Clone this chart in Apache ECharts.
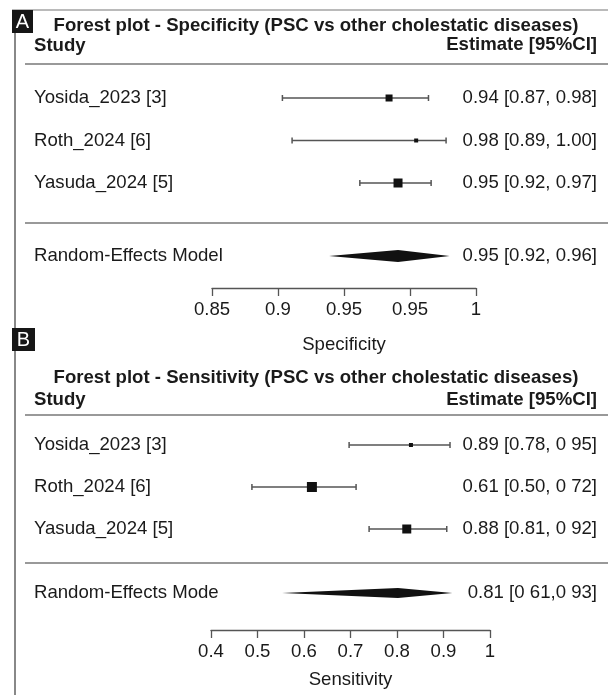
<!DOCTYPE html>
<html>
<head>
<meta charset="utf-8">
<script src="https://cdn.jsdelivr.net/npm/echarts@6/dist/echarts.min.js"></script>
<style>
  html, body { margin: 0; padding: 0; background: #fff; }
  #chart { width: 608px; height: 695px; }
</style>
</head>
<body>
<div id="chart"></div>
<script>
// ---------------- DATA ----------------
const studies = ['Yosida_2023 [3]', 'Roth_2024 [6]', 'Yasuda_2024 [5]'];

// Panel A – Specificity
const specEst = [0.9506, 0.966, 0.9557];
const specLo = [0.890, 0.8955, 0.934];
const specHi = [0.973, 0.983, 0.9745];
const specLabels = ['0.94 [0.87, 0.98]', '0.98 [0.89, 1.00]', '0.95 [0.92, 0.97]'];
const specPooledName = 'Random-Effects Model';
const specPooled = [0.9557, 0.9165, 0.985]; // estimate, lower, upper
const specPooledLabel = '0.95 [0.92, 0.96]';
const specTickValues = [0.85, 0.8875, 0.925, 0.9625, 1];
const specTickLabels = ['0.85', '0.9', '0.95', '0.95', '1'];

// Panel B – Sensitivity
const sensEst = [0.830, 0.617, 0.821];
const sensLo = [0.697, 0.488, 0.740];
const sensHi = [0.914, 0.712, 0.907];
const sensLabels = ['0.89 [0.78, 0 95]', '0.61 [0.50, 0 72]', '0.88 [0.81, 0 92]'];
const sensPooledName = 'Random-Effects Mode';
const sensPooled = [0.802, 0.553, 0.919];
const sensPooledLabel = '0.81 [0 61,0 93]';
const sensTickValues = [0.4, 0.5, 0.6, 0.7, 0.8, 0.9, 1];
const sensTickLabels = ['0.4', '0.5', '0.6', '0.7', '0.8', '0.9', '1'];

// ---------------- STYLE ----------------
const FONT = "'Liberation Sans', Arial, Helvetica, sans-serif";
const FS = 18.6;
const TXT = '#1a1a1a';
const specMarkerPx = [7, 4, 9];
const sensMarkerPx = [4, 10, 9];

const chart = echarts.init(document.getElementById('chart'), null, { renderer: 'canvas' });

function studyItem(params, api, sizes) {
  const yi = api.value(0);
  const c = api.coord([api.value(1), yi]);
  const l = api.coord([api.value(2), yi]);
  const h = api.coord([api.value(3), yi]);
  const s = sizes[params.dataIndex];
  const ls = { stroke: '#555', lineWidth: 1.5 };
  return {
    type: 'group',
    children: [
      { type: 'line', shape: { x1: l[0], y1: l[1], x2: h[0], y2: h[1] }, style: ls },
      { type: 'line', shape: { x1: l[0], y1: l[1] - 3, x2: l[0], y2: l[1] + 3 }, style: ls },
      { type: 'line', shape: { x1: h[0], y1: h[1] - 3, x2: h[0], y2: h[1] + 3 }, style: ls },
      { type: 'rect', shape: { x: c[0] - s / 2, y: c[1] - s / 2, width: s, height: s }, style: { fill: '#111' } }
    ]
  };
}
function diamondItem(params, api, half) {
  const yi = api.value(0);
  const c = api.coord([api.value(1), yi]);
  const l = api.coord([api.value(2), yi]);
  const h = api.coord([api.value(3), yi]);
  return {
    type: 'polygon',
    shape: { points: [[l[0], l[1]], [c[0], c[1] - half], [h[0], h[1]], [c[0], c[1] + half]] },
    style: { fill: '#111' }
  };
}

function catAxis(gridIndex, data, side, margin) {
  return {
    type: 'category', gridIndex, data, inverse: true, position: side,
    axisLine: { show: false }, axisTick: { show: false }, splitLine: { show: false },
    axisLabel: {
      margin, align: side === 'left' ? 'left' : 'right',
      fontFamily: FONT, fontSize: FS, color: TXT
    }
  };
}

const grids = [
  { left: 212, right: 132, top: 76.75, height: 127.5 },  // A studies
  { left: 212, right: 132, top: 224, height: 64 },       // A pooled + axis
  { left: 211, right: 118, top: 424, height: 126 },      // B studies
  { left: 211, right: 118, top: 556, height: 74 }        // B pooled + axis
];

const axisStyle = { lineStyle: { color: '#555', width: 1.3 } };

const xAxes = [
  { type: 'value', gridIndex: 0, min: 0.85, max: 1, show: false },
  {
    type: 'value', gridIndex: 1, min: 0.85, max: 1,
    name: 'Specificity', nameLocation: 'middle', nameGap: 47,
    nameTextStyle: { fontFamily: FONT, fontSize: FS, color: TXT },
    axisLine: { show: true, ...axisStyle },
    axisTick: { show: true, length: 8, customValues: specTickValues, ...axisStyle },
    splitLine: { show: false },
    axisLabel: {
      customValues: specTickValues, margin: 12, fontFamily: FONT, fontSize: FS, color: TXT,
      formatter: (v) => {
        const i = specTickValues.findIndex(t => Math.abs(t - v) < 1e-6);
        return i >= 0 ? specTickLabels[i] : '';
      }
    }
  },
  { type: 'value', gridIndex: 2, min: 0.4, max: 1, show: false },
  {
    type: 'value', gridIndex: 3, min: 0.4, max: 1,
    name: 'Sensitivity', nameLocation: 'middle', nameGap: 40,
    nameTextStyle: { fontFamily: FONT, fontSize: FS, color: TXT },
    axisLine: { show: true, ...axisStyle },
    axisTick: { show: true, length: 8, customValues: sensTickValues, ...axisStyle },
    splitLine: { show: false },
    axisLabel: {
      customValues: sensTickValues, margin: 12, fontFamily: FONT, fontSize: FS, color: TXT,
      formatter: (v) => {
        const i = sensTickValues.findIndex(t => Math.abs(t - v) < 1e-6);
        return i >= 0 ? sensTickLabels[i] : '';
      }
    }
  }
];

const yAxes = [
  catAxis(0, studies, 'left', 178),
  catAxis(0, specLabels, 'right', 121),
  catAxis(1, [specPooledName], 'left', 178),
  catAxis(1, [specPooledLabel], 'right', 121),
  catAxis(2, studies, 'left', 177),
  catAxis(2, sensLabels, 'right', 107),
  catAxis(3, [sensPooledName], 'left', 177),
  catAxis(3, [sensPooledLabel], 'right', 107)
];

const specRows = studies.map((s, i) => [i, specEst[i], specLo[i], specHi[i]]);
const sensRows = studies.map((s, i) => [i, sensEst[i], sensLo[i], sensHi[i]]);

const series = [
  {
    type: 'custom', xAxisIndex: 0, yAxisIndex: 0, data: specRows,
    encode: { x: [1, 2, 3], y: 0 },
    renderItem: (p, a) => studyItem(p, a, specMarkerPx)
  },
  {
    type: 'custom', xAxisIndex: 1, yAxisIndex: 2, data: [[0, ...specPooled]],
    encode: { x: [1, 2, 3], y: 0 },
    renderItem: (p, a) => diamondItem(p, a, 6)
  },
  {
    type: 'custom', xAxisIndex: 2, yAxisIndex: 4, data: sensRows,
    encode: { x: [1, 2, 3], y: 0 },
    renderItem: (p, a) => studyItem(p, a, sensMarkerPx)
  },
  {
    type: 'custom', xAxisIndex: 3, yAxisIndex: 6, data: [[0, ...sensPooled]],
    encode: { x: [1, 2, 3], y: 0 },
    renderItem: (p, a) => diamondItem(p, a, 5)
  }
];

function hline(y, x1, x2, color, w) {
  return { type: 'line', silent: true, shape: { x1, y1: y, x2, y2: y }, style: { stroke: color, lineWidth: w } };
}
function txt(x, y, text, opts) {
  return {
    type: 'text', silent: true, x, y,
    style: Object.assign({ text, fill: TXT, font: `${FS}px ${FONT}`, align: 'left', verticalAlign: 'middle' }, opts || {})
  };
}
function panelBox(x, y, w, h, letter) {
  return [
    { type: 'rect', silent: true, shape: { x, y, width: w, height: h }, style: { fill: '#161616' }, z: 10 },
    Object.assign(txt(x + w / 2, y + h / 2 + 1, letter, { fill: '#fff', align: 'center', font: `20px ${FONT}` }), { z: 11 })
  ];
}

const graphic = [
  // frame lines
  hline(10, 12, 608, '#777', 1.2),
  { type: 'line', silent: true, shape: { x1: 15, y1: 33, x2: 15, y2: 695 }, style: { stroke: '#888', lineWidth: 2 } },
  ...panelBox(12, 10, 21, 23, 'A'),
  ...panelBox(12, 328, 23, 23, 'B'),
  // Panel A header
  txt(316, 26, 'Forest plot - Specificity (PSC vs other cholestatic diseases)', { align: 'center', font: `bold ${FS}px ${FONT}` }),
  txt(34, 46, 'Study', { font: `bold ${FS}px ${FONT}` }),
  txt(597, 45, 'Estimate [95%CI]', { align: 'right', font: `bold ${FS}px ${FONT}` }),
  hline(64, 25, 608, '#999', 2),
  hline(223, 25, 608, '#999', 2),
  // Panel B header
  txt(316, 378, 'Forest plot - Sensitivity (PSC vs other cholestatic diseases)', { align: 'center', font: `bold ${FS}px ${FONT}` }),
  txt(34, 400, 'Study', { font: `bold ${FS}px ${FONT}` }),
  txt(597, 400, 'Estimate [95%CI]', { align: 'right', font: `bold ${FS}px ${FONT}` }),
  hline(415, 25, 608, '#999', 2),
  hline(563, 25, 608, '#999', 2)
];

chart.setOption({
  animation: false,
  backgroundColor: '#fff',
  textStyle: { fontFamily: FONT },
  grid: grids,
  xAxis: xAxes,
  yAxis: yAxes,
  series,
  graphic
});
</script>
</body>
</html>
